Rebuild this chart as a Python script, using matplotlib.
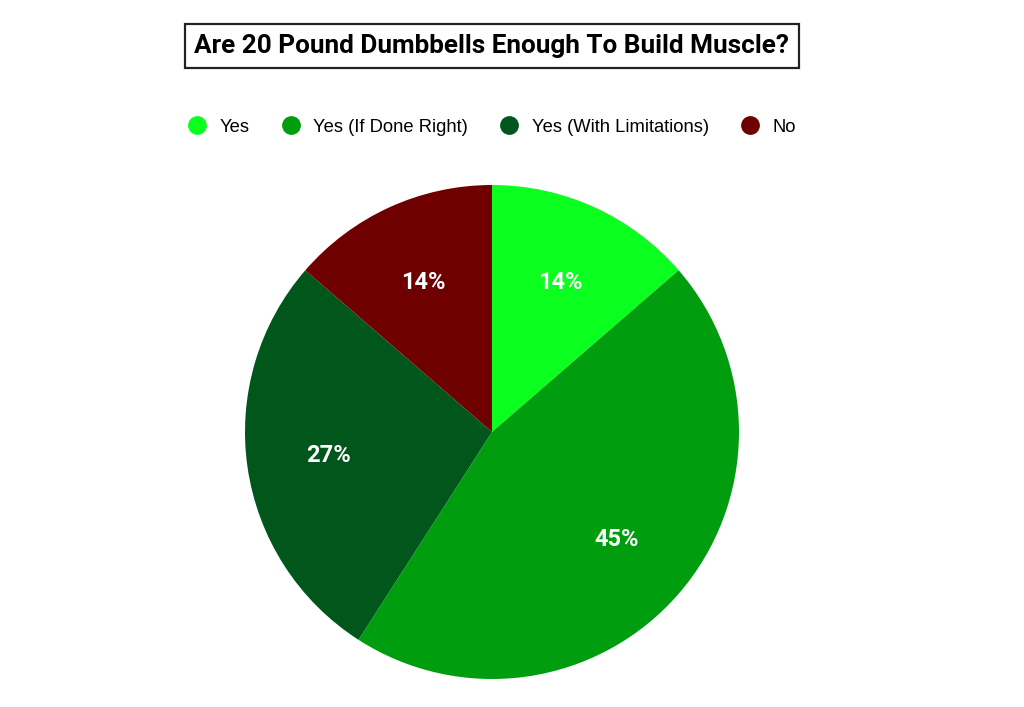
import matplotlib
matplotlib.use('Agg')
import matplotlib.pyplot as plt
from matplotlib.lines import Line2D

labels = ['Yes', 'Yes (If Done Right)', 'Yes (With Limitations)', 'No']
counts = [3, 10, 6, 3]
colors = ['#0AFF1E', '#009E0F', '#00561B', '#6F0000']

W, H = 1024, 707
fig = plt.figure(figsize=(W / 100, H / 100), dpi=100)
fig.patch.set_facecolor('white')

# pie centre (492, 432), radius 247 px
cx, cy, r = 492, 432, 247
ax = fig.add_axes([(cx - r) / W, (H - cy - r) / H, 2 * r / W, 2 * r / H])

wedges, texts, autotexts = ax.pie(
    counts, colors=colors, startangle=90, counterclock=False,
    autopct=lambda p: f'{p:.0f}%', pctdistance=0.667, radius=1,
    wedgeprops=dict(linewidth=0),
    textprops=dict(color='white', fontsize=17, fontweight='bold', family='Roboto'))
ax.set_xlim(-1, 1)
ax.set_ylim(-1, 1)
ax.set_aspect('equal')

fig.text(cx / W, 1 - 46 / H, 'Are 20 Pound Dumbbells Enough To Build Muscle?',
         ha='center', va='center', fontsize=18.8, fontweight='bold', family='Roboto',
         bbox=dict(boxstyle='square,pad=0.38', facecolor='white', edgecolor='#222222',
                   linewidth=1.6))

handles = [Line2D([0], [0], marker='o', linestyle='none', markersize=12.5,
                  markerfacecolor=c, markeredgecolor=c) for c in colors]
fig.legend(handles, labels, loc='center', bbox_to_anchor=(cx / W, 1 - 127 / H),
           ncol=4, frameon=False, handletextpad=0.72, columnspacing=1.75,
           handlelength=1.0, prop=dict(family='Liberation Sans', size=13.2))

fig.savefig('out.png', dpi=100, facecolor='white')
